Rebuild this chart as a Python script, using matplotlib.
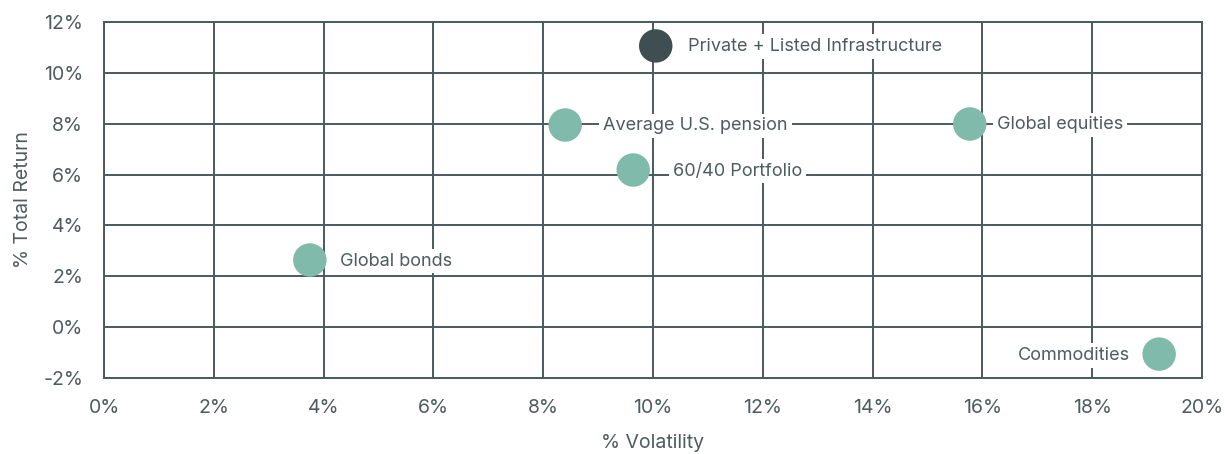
import matplotlib.pyplot as plt
from matplotlib.ticker import FuncFormatter

# data
names = ["Private + Listed Infrastructure", "Average U.S. pension", "60/40 Portfolio",
         "Global equities", "Global bonds", "Commodities"]
volatility = [10.05, 8.40, 9.64, 15.77, 3.75, 19.22]
total_return = [11.06, 7.95, 6.18, 7.99, 2.64, -1.06]
highlight = [True, False, False, False, False, False]

TEAL = "#7fbaab"
DARK = "#3f4f51"
GRID = "#4b5a5c"
TEXT = "#4f5b5d"

plt.rcParams['font.family'] = ['Inter', 'DejaVu Sans']

fig = plt.figure(figsize=(12.25, 4.54), dpi=100)
ax = fig.add_axes([0.0849, 0.1674, 0.8963, 0.7841])

colors = [DARK if h else TEAL for h in highlight]
ax.scatter(volatility, total_return, s=580, c=colors, edgecolors='none', zorder=5)

# label offsets in pixels (x, ha)
offsets = [(32, 'left'), (38, 'left'), (40, 'left'), (27, 'left'), (30, 'left'), (-29, 'right')]
for name, x, y, (dx, ha) in zip(names, volatility, total_return, offsets):
    ax.annotate(name, (x, y), xytext=(dx, -1), textcoords='offset pixels',
                ha=ha, va='center', fontsize=13, color=TEXT, zorder=4,
                bbox=dict(boxstyle='square,pad=0.22', fc='white', ec='none'))

ax.set_xlim(0, 20)
ax.set_ylim(-2, 12)
ax.set_xticks(range(0, 21, 2))
ax.set_yticks(range(-2, 13, 2))
ax.xaxis.set_major_formatter(FuncFormatter(lambda v, p: f"{int(v)}%"))
ax.yaxis.set_major_formatter(FuncFormatter(lambda v, p: f"{int(v)}%"))
ax.tick_params(length=0, labelsize=14, labelcolor=TEXT, pad=15)
ax.grid(True, color=GRID, lw=1.4)
ax.set_axisbelow(True)
for s in ax.spines.values():
    s.set_color(GRID)
    s.set_linewidth(1.4)

ax.set_xlabel("% Volatility", fontsize=14, color=TEXT, labelpad=12)
ax.set_ylabel("% Total Return", fontsize=14, color=TEXT, labelpad=8)

fig.savefig("out.png", dpi=100)
